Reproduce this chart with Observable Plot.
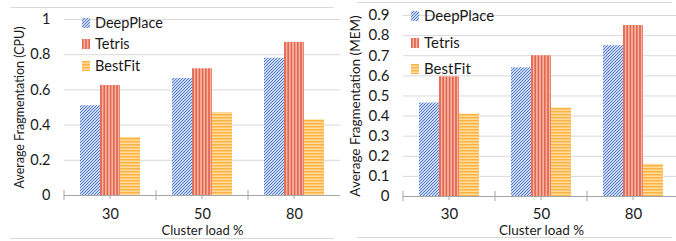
<!DOCTYPE html>
<html><head><meta charset="utf-8">
<script src="https://cdn.jsdelivr.net/npm/d3@7"></script>
<script src="https://cdn.jsdelivr.net/npm/@observablehq/plot@0.6"></script>
<style>
body{margin:0;background:#fff;font-family:Lato,sans-serif;}
#wrap{position:relative;width:676px;height:241px;overflow:hidden;background:#fff;}
.panel{position:absolute;top:0;}
.hline{position:absolute;height:0;border-top:1px solid #d9d9d9;}
.leg{position:absolute;font-size:14.5px;color:#1a1a1a;display:flex;align-items:center;white-space:nowrap;line-height:1;}
.leg svg{margin-right:5px;}
</style></head><body>
<svg width="0" height="0" style="position:absolute">
<defs>
<pattern id="pDeep" patternUnits="userSpaceOnUse" width="3" height="3">
 <rect width="3" height="3" fill="#ffffff"/>
 <path d="M0,3L3,0M-1,1L1,-1M2,4L4,2" stroke="#4a76cf" stroke-width="1.1"/>
</pattern>
<pattern id="pTetris" patternUnits="userSpaceOnUse" width="3.2" height="3">
 <rect width="3.2" height="3" fill="#f6b4a2"/>
 <rect width="1.6" height="3" fill="#e4664f"/>
</pattern>
<pattern id="pBest" patternUnits="userSpaceOnUse" width="3" height="3">
 <rect width="3" height="3" fill="#ffdc9c"/>
 <rect width="3" height="1.5" fill="#fdb244"/>
</pattern>
</defs>
</svg>
<div id="wrap">
 <div class="hline" style="left:10px;width:324px;top:7px"></div>
 <div class="hline" style="left:10px;width:324px;top:238px"></div>
 <div class="hline" style="left:357px;width:315px;top:2px"></div>
 <div class="hline" style="left:357px;width:315px;top:237px"></div>
</div>
<script>
const categories = ["30", "50", "80"];
const series = ["DeepPlace", "Tetris", "BestFit"];
const patterns = ["url(#pDeep)", "url(#pTetris)", "url(#pBest)"];

const cpuDeepPlace = [0.51, 0.665, 0.78];
const cpuTetris    = [0.625, 0.72, 0.87];
const cpuBestFit   = [0.33, 0.47, 0.43];

const memDeepPlace = [0.465, 0.64, 0.75];
const memTetris    = [0.595, 0.70, 0.85];
const memBestFit   = [0.41, 0.44, 0.16];

const cpuTicks = [0, 0.2, 0.4, 0.6, 0.8, 1];
const memTicks = [0, 0.1, 0.2, 0.3, 0.4, 0.5, 0.6, 0.7, 0.8, 0.9];

const xTitle = "Cluster load %";
const cpuTitle = "Average Fragmentation (CPU)";
const memTitle = "Average Fragmentation (MEM)";

function rows(a, b, c) {
  const vals = [a, b, c];
  return categories.flatMap((cat, i) => series.map((s, j) => ({cat, s, v: vals[j][i]})));
}

function panel(o) {
  const plot = Plot.plot({
    width: o.width, height: 241,
    marginLeft: 63, marginRight: 0, marginTop: o.marginTop, marginBottom: o.marginBottom,
    fx: {domain: categories, range: o.fxRange, padding: 0, axis: "bottom", tickSize: 0, tickPadding: o.fxPad, label: null},
    x: {domain: series, paddingInner: 0, paddingOuter: 0.7, axis: null},
    y: {domain: [0, o.ticks[o.ticks.length - 1]], ticks: o.ticks, tickSize: 0, tickPadding: 14,
        tickFormat: d => String(+d.toFixed(1)), label: null},
    color: {domain: series, range: patterns},
    style: {fontFamily: "Lato, sans-serif", fontSize: o.tickSize + "px", color: "#1a1a1a", background: "transparent"},
    marks: [
      Plot.ruleY(o.ticks.filter(t => t > 0), {stroke: "#d9d9d9"}),
      Plot.barY(o.data, {fx: "cat", x: "s", y: "v", fill: "s"}),
      Plot.ruleY([0], {stroke: "#a6a6a6"}),
      Plot.text([o.yTitle], {fx: () => categories[0], frameAnchor: "left", textAnchor: "middle", lineAnchor: "middle",
        rotate: -90, dx: o.titleDx, fontSize: o.titleSize, fill: "#1a1a1a"}),
      Plot.text([xTitle], {fx: () => categories[1], frameAnchor: "bottom", lineAnchor: "middle", dy: o.xTitleDy,
        fontSize: o.xTitleSize, fill: "#1a1a1a"})
    ]
  });
  // category ticks on the baseline, from the library's scales
  const fx = plot.scale("fx"), y = plot.scale("y");
  const y0 = y.apply(0);
  const svg = d3.select(plot.tagName === "svg" ? plot : plot.querySelector("svg"));
  const g = svg.append("g").attr("stroke", "#a6a6a6");
  categories.forEach(c => {
    const x0 = fx.apply(c);
    g.append("line").attr("x1", x0).attr("x2", x0).attr("y1", y0 - 5).attr("y2", y0 + 5);
    g.append("line").attr("x1", x0 + fx.bandwidth / 2).attr("x2", x0 + fx.bandwidth / 2).attr("y1", y0).attr("y2", y0 + 4);
  });
  plot.classList.add("panel");
  plot.style.left = o.left + "px";
  return plot;
}

const wrap = document.getElementById("wrap");
wrap.appendChild(panel({left: 0, width: 340, fxRange: [63, 340], marginTop: 19, marginBottom: 46, tickSize: 14.5,
  ticks: cpuTicks, data: rows(cpuDeepPlace, cpuTetris, cpuBestFit), yTitle: cpuTitle, titleDx: -45, titleSize: 12.5,
  fxPad: 13, xTitleDy: 35, xTitleSize: 13}));
wrap.appendChild(panel({left: 340, width: 336, fxRange: [63, 339], marginTop: 15, marginBottom: 45, tickSize: 15,
  ticks: memTicks, data: rows(memDeepPlace, memTetris, memBestFit), yTitle: memTitle, titleDx: -48, titleSize: 13.5,
  fxPad: 12, xTitleDy: 34, xTitleSize: 13.5}));

function legend(left, tops, size) {
  series.forEach((s, i) => {
    const d = document.createElement("div");
    d.className = "leg";
    d.style.left = left + "px";
    d.style.top = (tops[i] - 7) + "px";
    d.style.fontSize = size + "px";
    d.innerHTML = `<svg width="8" height="10"><rect width="8" height="10" fill="${patterns[i]}"/></svg><span>${s}</span>`;
    wrap.appendChild(d);
  });
}
legend(82, [23, 44, 66], 14.5);
legend(411, [15, 42, 68], 15);
</script>
</body></html>
